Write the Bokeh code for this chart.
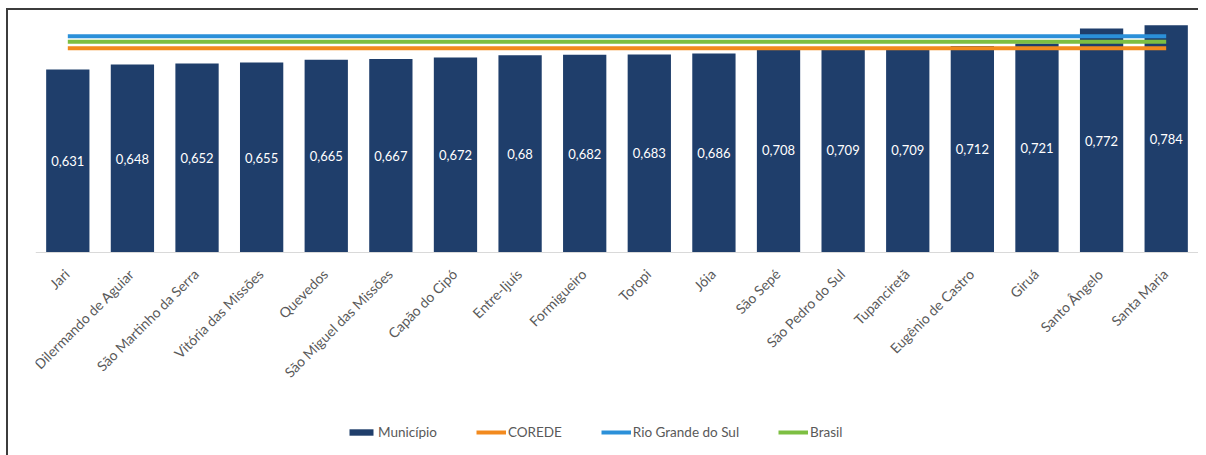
import math
from bokeh.plotting import figure
from bokeh.models import ColumnDataSource, Range1d, Legend, LegendItem, FactorRange, Span
from bokeh.embed import file_html
from bokeh.resources import INLINE
from bokeh.core.properties import value

# ---- data ----
municipios = ["Jari", "Dilermando de Aguiar", "São Martinho da Serra", "Vitória das Missões",
              "Quevedos", "São Miguel das Missões", "Capão do Cipó", "Entre-Ijuís", "Formigueiro",
              "Toropi", "Jóia", "São Sepé", "São Pedro do Sul", "Tupanciretã", "Eugênio de Castro",
              "Giruá", "Santo Ângelo", "Santa Maria"]
idhm = [0.631, 0.648, 0.652, 0.655, 0.665, 0.667, 0.672, 0.68, 0.682, 0.683, 0.686,
        0.708, 0.709, 0.709, 0.712, 0.721, 0.772, 0.784]
corede = 0.704
rio_grande_do_sul = 0.746
brasil = 0.727
series_names = ["Município", "COREDE", "Rio Grande do Sul", "Brasil"]

labels = [f"{v:g}".replace(".", ",") for v in idhm]

FONT = "Lato"
BAR = "#1f3e6b"
ORANGE = "#f28a1e"
BLUE = "#2b90d9"
GREEN = "#7dbf42"
GRAY = "#595959"

src = ColumnDataSource(dict(x=municipios, top=idhm, mid=[v / 2 for v in idhm], label=labels,
                            base=[0] * len(municipios)))

p = figure(x_range=FactorRange(*municipios, range_padding=0), y_range=Range1d(-0.7, 0.8345),
           frame_width=1163, frame_height=445, output_backend="svg", toolbar_location=None,
           min_border_left=27, min_border_right=0, min_border_top=0, min_border_bottom=0)
p.styles = {"border-top": "2px solid #3c3c3c", "border-left": "2px solid #3c3c3c",
            "margin-left": "6px", "margin-top": "8px"}

p.add_layout(Span(location=0, dimension="width", line_color="#d9d9d9", line_width=1))

bars = p.vbar(x="x", top="top", width=0.67, source=src, fill_color=BAR, line_color=None)
p.text(x="x", y="mid", text="label", source=src, text_align="center", text_baseline="middle",
       text_color="white", text_font=value(FONT), text_font_size="13px")

# category labels (rotated, below the baseline)
p.text(x="x", y="base", text="x", source=src, angle=math.pi / 4, text_align="right",
       text_baseline="middle", x_offset=-1, y_offset=19, text_color=GRAY,
       text_font=value(FONT), text_font_size="14px")

l_corede = p.line(x=municipios, y=[corede] * len(municipios), line_color=ORANGE, line_width=4)
l_rs = p.line(x=municipios, y=[rio_grande_do_sul] * len(municipios), line_color=BLUE, line_width=4)
l_br = p.line(x=municipios, y=[brasil] * len(municipios), line_color=GREEN, line_width=4)

p.xaxis.visible = False
p.yaxis.visible = False
p.xgrid.visible = False
p.ygrid.visible = False
p.outline_line_color = None

legend = Legend(items=[LegendItem(label=series_names[0], renderers=[bars]),
                       LegendItem(label=series_names[1], renderers=[l_corede]),
                       LegendItem(label=series_names[2], renderers=[l_rs]),
                       LegendItem(label=series_names[3], renderers=[l_br])],
                orientation="horizontal", location=(311, 15), glyph_width=30, glyph_height=8,
                label_standoff=2, spacing=39, label_text_font=FONT, label_text_font_size="13.5px",
                label_text_color=GRAY, border_line_color=None, background_fill_alpha=0,
                padding=6, margin=0)
p.add_layout(legend)

open("out.html", "w").write(file_html(p, INLINE))
